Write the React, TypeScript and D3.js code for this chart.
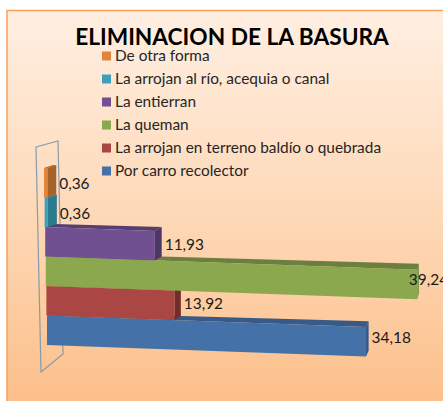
import * as d3 from "d3";

const WIDTH = 443;
const HEIGHT = 401;

// bottom to top, the same order the bars are painted in
const categories = [
  "Por carro recolector",
  "La arrojan en terreno baldío o quebrada",
  "La queman",
  "La entierran",
  "La arrojan al río, acequia o canal",
  "De otra forma",
];
const values = [34.18, 13.92, 39.24, 11.93, 0.36, 0.36];
const valueLabels = ["34,18", "13,92", "39,24", "11,93", "0,36", "0,36"];
const frontColors = ["#4471a8", "#aa4644", "#8ba84e", "#705090", "#3f9fb8", "#e0863c"];
const topColors = ["#375a87", "#7f3432", "#6b8040", "#553f70", "#2f7f94", "#a8642c"];
const sideColors = ["#36598a", "#732c2c", "#6f8a3e", "#4c3866", "#2a7a90", "#a6622a"];

// the 3D view stretches the long bars, so the scale is not quite straight
const xScale = d3.scaleLinear().domain([0, 13.92, 34.18, 39.24]).range([0, 128, 319, 371.5]);
const yScale = d3
  .scaleBand()
  .domain(categories)
  .range([345, 168])
  .padding(0);
const skewX = d3.scaleLinear().domain([0, 5]).range([47, 44]);
const legendY = d3
  .scalePoint()
  .domain([...categories].reverse())
  .range([56, 171]);

// the floor tilts down to the right, and depth shrinks towards the vanishing point
const tilt = (dx: number) => dx * 0.036;
const depthX = d3.scaleLinear().domain([0, 320]).range([9, 2.6]);
const depthY = d3.scaleLinear().domain([0, 320]).range([-3, -5.7]);

const poly = (pts: number[][]) => pts.map((p) => p.join(",")).join(" ");

const WALL = [
  [36, 147],
  [58, 141],
  [63, 354],
  [41, 372],
];

const FONT = "Lato, 'Open Sans', sans-serif";

export default function App() {
  return (
    <svg
      width={WIDTH}
      height={HEIGHT}
      style={{ position: "absolute", left: 0, top: 0 }}
      fontFamily={FONT}
    >
      <defs>
        <linearGradient id="bg" x1="0" y1="0" x2="0" y2="1">
          <stop offset="0" stopColor="#ffefe2" />
          <stop offset="0.5" stopColor="#fed9b8" />
          <stop offset="1" stopColor="#fcbe88" />
        </linearGradient>
      </defs>
      <rect width={WIDTH} height={HEIGHT} fill="#fff" />
      <rect x={7} y={10.5} width={WIDTH} height={HEIGHT} fill="url(#bg)" stroke="#f9a05c" strokeWidth={1.5} />

      <text x={232} y={45} textAnchor="middle" fontSize={22.7} fontWeight={700} fill="#000">
        ELIMINACION DE LA BASURA
      </text>

      <polygon points={poly(WALL)} fill="none" stroke="#8a9aa8" strokeWidth={1.2} />

      {categories.map((c, i) => {
        const x0 = skewX(i);
        const w = xScale(values[i]);
        const x1 = x0 + w;
        const top = yScale(c) as number;
        const h = yScale.bandwidth();
        const dx0 = depthX(0);
        const dy0 = depthY(0);
        const dx1 = depthX(w);
        const dy1 = depthY(w);
        const yR = tilt(w);
        return (
          <g key={c}>
            <polygon
              points={poly([
                [x0, top],
                [x0 + dx0, top + dy0],
                [x1 + dx1, top + yR + dy1],
                [x1, top + yR],
              ])}
              fill={topColors[i]}
            />
            <polygon
              points={poly([
                [x1, top + yR],
                [x1 + dx1, top + yR + dy1],
                [x1 + dx1, top + h + yR + dy1],
                [x1, top + h + yR],
              ])}
              fill={sideColors[i]}
            />
            <polygon
              points={poly([
                [x0, top],
                [x1, top + yR],
                [x1, top + h + yR],
                [x0, top + h],
              ])}
              fill={frontColors[i]}
            />
          </g>
        );
      })}

      {categories.map((c, i) => {
        const x0 = skewX(i);
        const w = xScale(values[i]);
        const top = yScale(c) as number;
        // 39,24 sits on the end of its bar and runs off the picture, as in the original
        const x = x0 + w + depthX(w) + (i === 2 ? -10 : 3);
        const y = top + tilt(w) * 0.6 + yScale.bandwidth() / 2 + (i > 3 ? 1 : 0);
        return (
          <text key={c} x={x} y={y} dy="0.35em" fontSize={15.4} fill="#1a1a1a">
            {valueLabels[i]}
          </text>
        );
      })}

      {categories.map((c, i) => {
        const y = legendY(c) as number;
        return (
          <g key={c}>
            <rect x={102} y={y - 4.5} width={9} height={9} fill={frontColors[i]} />
            <text x={115} y={y} dy="0.35em" fontSize={15.4} fill="#262626">
              {c}
            </text>
          </g>
        );
      })}
    </svg>
  );
}
